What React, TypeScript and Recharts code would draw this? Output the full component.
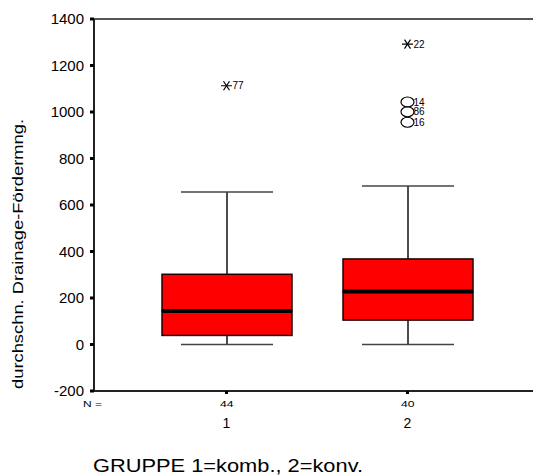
import React from 'react';
import { ComposedChart, Bar, Scatter, XAxis, YAxis, ReferenceLine, Label } from 'recharts';

const groups = ['1', '2'];
const nCounts = [44, 40];
const minVals = [0, 0];
const q1Vals = [39, 105];
const medianVals = [144, 228];
const q3Vals = [302, 368];
const maxVals = [656, 682];

const group1OutlierValues = [1113];
const group1OutlierIds = ['77'];
const group1OutlierKinds = ['extreme'];
const group2OutlierValues = [1292, 1043, 1001, 956];
const group2OutlierIds = ['22', '14', '86', '16'];
const group2OutlierKinds = ['extreme', 'outlier', 'outlier', 'outlier'];

const yTicks = [-200, 0, 200, 400, 600, 800, 1000, 1200, 1400];

const outVals = [group1OutlierValues, group2OutlierValues];
const outIds = [group1OutlierIds, group2OutlierIds];
const outKinds = [group1OutlierKinds, group2OutlierKinds];

const data = groups.map((g, i) => {
  const row: any = {
    grp: g,
    n: nCounts[i],
    base: minVals[i],
    lowW: q1Vals[i] - minVals[i],
    boxLo: medianVals[i] - q1Vals[i],
    boxHi: q3Vals[i] - medianVals[i],
    upW: maxVals[i] - q3Vals[i],
  };
  for (let k = 0; k < 4; k++) {
    row['o' + k] = outVals[i][k] ?? null;
    row['id' + k] = outIds[i][k] ?? '';
    row['kind' + k] = outKinds[i][k] ?? '';
  }
  return row;
});

const FONT = 'Liberation Sans, Arial, sans-serif';
const CAP = 46;

const Empty = () => <g />;

const LowWhisker = (p: any) => {
  const { x, y, width, height } = p;
  if (height == null || width == null) return <g />;
  const cx = x + width / 2;
  const bottom = y + height;
  return (
    <g>
      <line x1={cx} x2={cx} y1={y} y2={bottom} stroke="#111" strokeWidth={1.5} />
      <line x1={cx - CAP} x2={cx + CAP} y1={bottom} y2={bottom} stroke="#444" strokeWidth={1.5} />
    </g>
  );
};

const UpWhisker = (p: any) => {
  const { x, y, width, height } = p;
  if (height == null || width == null) return <g />;
  const cx = x + width / 2;
  return (
    <g>
      <line x1={cx} x2={cx} y1={y} y2={y + height} stroke="#111" strokeWidth={1.5} />
      <line x1={cx - CAP} x2={cx + CAP} y1={y} y2={y} stroke="#444" strokeWidth={1.5} />
    </g>
  );
};

const BoxLo = (p: any) => {
  const { x, y, width, height } = p;
  return <rect x={x} y={y} width={width} height={height} fill="#ff0000" stroke="#200" strokeWidth={1.5} />;
};

const BoxHi = (p: any) => {
  const { x, y, width, height } = p;
  const b = y + height;
  return (
    <g>
      <rect x={x} y={y} width={width} height={height} fill="#ff0000" stroke="#200" strokeWidth={1.5} />
      <line x1={x} x2={x + width} y1={b} y2={b} stroke="#000" strokeWidth={4} />
    </g>
  );
};

const makeOutlier = (k: number) => (p: any) => {
  const { cx, cy, payload } = p;
  if (!payload || payload['o' + k] == null || cx == null || cy == null || isNaN(cy)) return <g />;
  const kind = payload['kind' + k];
  const id = payload['id' + k];
  return (
    <g>
      {kind === 'extreme' ? (
        <g stroke="#000" strokeWidth={1.2}>
          <line x1={cx - 5.5} x2={cx + 5.5} y1={cy} y2={cy} />
          <line x1={cx - 3} x2={cx + 3} y1={cy - 4.5} y2={cy + 4.5} />
          <line x1={cx - 3} x2={cx + 3} y1={cy + 4.5} y2={cy - 4.5} />
        </g>
      ) : (
        <ellipse cx={cx} cy={cy} rx={6.5} ry={5} fill="none" stroke="#000" strokeWidth={1.2} />
      )}
      <text x={cx + 6} y={cy + 3.5} fontSize={10} fontFamily={FONT} fill="#000">
        {id}
      </text>
    </g>
  );
};

const XTick = (p: any) => {
  const { x, y, index } = p;
  return (
    <g>
      <text
        x={x - 6.5}
        y={y + 12.5}
        fontSize={9}
        fontFamily={FONT}
        fill="#000"
        textLength={13.5}
        lengthAdjust="spacingAndGlyphs"
      >
        {nCounts[index]}
      </text>
      <text x={x} y={y + 34} textAnchor="middle" fontSize={14} fontFamily={FONT} fill="#000">
        {groups[index]}
      </text>
    </g>
  );
};

const XLabel = (p: any) => {
  const vb = p.viewBox || {};
  return (
    <g>
      <text
        x={vb.x - 11}
        y={vb.y + 15.5}
        fontSize={9}
        fontFamily={FONT}
        fill="#000"
        textLength={19}
        lengthAdjust="spacingAndGlyphs"
      >
        N =
      </text>
      <text
        x={vb.x - 1}
        y={vb.y + 81}
        fontSize={18}
        fontFamily={FONT}
        fill="#000"
        textLength={270}
        lengthAdjust="spacingAndGlyphs"
      >
        GRUPPE 1=komb., 2=konv.
      </text>
    </g>
  );
};

const YLabel = (p: any) => {
  const vb = p.viewBox || {};
  const cx = 18;
  const cy = vb.y + vb.height / 2 + 49;
  return (
    <text
      x={cx}
      y={cy}
      transform={`rotate(-90, ${cx}, ${cy})`}
      textAnchor="middle"
      dominantBaseline="central"
      fontSize={14}
      fontFamily={FONT}
      fill="#000"
      textLength={270}
      lengthAdjust="spacingAndGlyphs"
    >
      durchschn. Drainage-Fördermng.
    </text>
  );
};

export default function App() {
  return (
    <div style={{ position: 'absolute', left: 0, top: 0, width: 533, height: 476, background: '#fff' }}>
      <ComposedChart width={533} height={476} data={data} margin={{ top: 19, right: 0, bottom: 0, left: 0 }}>
        <XAxis
          dataKey="grp"
          type="category"
          padding={{ left: 42, right: 35 }}
          axisLine={{ stroke: '#222', strokeWidth: 2 }}
          tickLine={{ stroke: '#000', strokeWidth: 3 }}
          tickSize={3}
          tickMargin={0}
          tick={<XTick />}
          height={85}
          interval={0}
        >
          <Label content={<XLabel />} />
        </XAxis>
        <YAxis
          type="number"
          domain={[-200, 1400]}
          ticks={yTicks}
          allowDataOverflow
          width={94}
          axisLine={{ stroke: '#222', strokeWidth: 2 }}
          tickLine={{ stroke: '#000', strokeWidth: 3 }}
          tickSize={4}
          tickMargin={6}
          tick={{ fontSize: 15, fontFamily: FONT, fill: '#000' }}
        >
          <Label content={<YLabel />} />
        </YAxis>
        <ReferenceLine y={1400} stroke="#555" strokeWidth={2} />
        <Bar dataKey="base" stackId="a" barSize={130} shape={<Empty />} isAnimationActive={false} />
        <Bar dataKey="lowW" stackId="a" barSize={130} shape={<LowWhisker />} isAnimationActive={false} />
        <Bar dataKey="boxLo" stackId="a" barSize={130} shape={<BoxLo />} isAnimationActive={false} />
        <Bar dataKey="boxHi" stackId="a" barSize={130} shape={<BoxHi />} isAnimationActive={false} />
        <Bar dataKey="upW" stackId="a" barSize={130} shape={<UpWhisker />} isAnimationActive={false} />
        {[0, 1, 2, 3].map((k) => (
          <Scatter key={k} dataKey={'o' + k} shape={makeOutlier(k)} isAnimationActive={false} />
        ))}
      </ComposedChart>
    </div>
  );
}
